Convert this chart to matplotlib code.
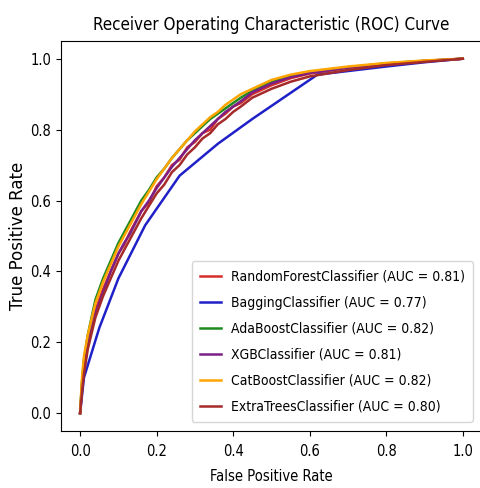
import matplotlib
matplotlib.use("Agg")
import matplotlib.pyplot as plt

plt.rcParams['font.family'] = ['DejaVu Sans']
plt.rcParams['font.stretch'] = 'condensed'

# False positive rate grid shared by the boosted / forest models
fpr_grid = [0.0, 0.005, 0.01, 0.02, 0.04, 0.06, 0.08, 0.10, 0.115, 0.13, 0.16,
            0.18, 0.20, 0.22, 0.24, 0.26, 0.28, 0.30, 0.32, 0.34, 0.36, 0.38,
            0.40, 0.42, 0.45, 0.50, 0.55, 0.60, 0.70, 0.80, 0.90, 1.0]

tpr_rf = [0.0, 0.08, 0.13, 0.20, 0.29, 0.35, 0.40, 0.45, 0.475, 0.51, 0.57,
          0.595, 0.64, 0.665, 0.70, 0.715, 0.75, 0.765, 0.79, 0.80, 0.83,
          0.845, 0.865, 0.875, 0.90, 0.925, 0.945, 0.958, 0.974, 0.985,
          0.993, 1.0]
tpr_ada = [0.0, 0.09, 0.15, 0.22, 0.32, 0.38, 0.43, 0.48, 0.51, 0.54, 0.60,
           0.63, 0.665, 0.69, 0.72, 0.745, 0.77, 0.79, 0.81, 0.83, 0.845,
           0.86, 0.875, 0.89, 0.91, 0.935, 0.95, 0.962, 0.976, 0.987, 0.994,
           1.0]
tpr_xgb = [0.0, 0.07, 0.12, 0.19, 0.28, 0.34, 0.40, 0.45, 0.48, 0.505, 0.57,
           0.60, 0.635, 0.665, 0.695, 0.72, 0.745, 0.77, 0.79, 0.81, 0.83,
           0.85, 0.865, 0.88, 0.905, 0.93, 0.948, 0.96, 0.975, 0.986, 0.994,
           1.0]
tpr_cat = [0.0, 0.10, 0.16, 0.22, 0.31, 0.37, 0.42, 0.47, 0.50, 0.53, 0.59,
           0.625, 0.66, 0.69, 0.72, 0.745, 0.77, 0.795, 0.815, 0.835, 0.85,
           0.87, 0.885, 0.90, 0.915, 0.94, 0.955, 0.965, 0.978, 0.988, 0.995,
           1.0]
tpr_et = [0.0, 0.06, 0.11, 0.18, 0.27, 0.33, 0.38, 0.43, 0.46, 0.49, 0.55,
          0.585, 0.62, 0.645, 0.68, 0.70, 0.73, 0.75, 0.775, 0.79, 0.815,
          0.83, 0.85, 0.865, 0.89, 0.915, 0.935, 0.95, 0.968, 0.982, 0.991,
          1.0]

# Bagging has only a handful of distinct thresholds
fpr_bag = [0.0, 0.01, 0.05, 0.10, 0.17, 0.26, 0.36, 0.45, 0.62, 0.80, 0.90, 1.0]
tpr_bag = [0.0, 0.10, 0.24, 0.38, 0.53, 0.67, 0.76, 0.83, 0.955, 0.978, 0.99, 1.0]

models = ["RandomForestClassifier", "BaggingClassifier", "AdaBoostClassifier",
          "XGBClassifier", "CatBoostClassifier", "ExtraTreesClassifier"]
aucs = [0.81, 0.77, 0.82, 0.81, 0.82, 0.80]
colors = ["#d62f2a", "#2020c8", "#1f8a1f", "#7b1e86", "#ffa500", "#a52a2a"]

curves = [(fpr_grid, tpr_rf), (fpr_bag, tpr_bag), (fpr_grid, tpr_ada),
          (fpr_grid, tpr_xgb), (fpr_grid, tpr_cat), (fpr_grid, tpr_et)]

fig = plt.figure(figsize=(4.8, 4.88), dpi=100)
ax = fig.add_axes([0.127, 0.117, 0.877, 0.799])

for name, auc, color, (fx, ty) in zip(models, aucs, colors, curves):
    ax.plot(fx, ty, color=color, lw=1.8, label=f"{name} (AUC = {auc:.2f})")

ax.set_xlim(-0.05, 1.05)
ax.set_ylim(-0.05, 1.05)
ax.set_xticks([0.0, 0.2, 0.4, 0.6, 0.8, 1.0])
ax.set_yticks([0.0, 0.2, 0.4, 0.6, 0.8, 1.0])
ax.tick_params(labelsize=10.5, length=3.5)
ax.tick_params(axis='x', pad=6)
ax.set_xlabel("False Positive Rate", fontsize=10.5, labelpad=7)
ax.set_ylabel("True Positive Rate", fontsize=12, fontstretch='normal',
              labelpad=2)
ax.set_title("Receiver Operating Characteristic (ROC) Curve", fontsize=12.2,
             pad=8)
ax.legend(loc="lower right", fontsize=10, handlelength=1.5,
          handletextpad=0.7, borderaxespad=0.65, labelspacing=0.86,
          borderpad=0.6)

fig.savefig("out.png", dpi=100)
